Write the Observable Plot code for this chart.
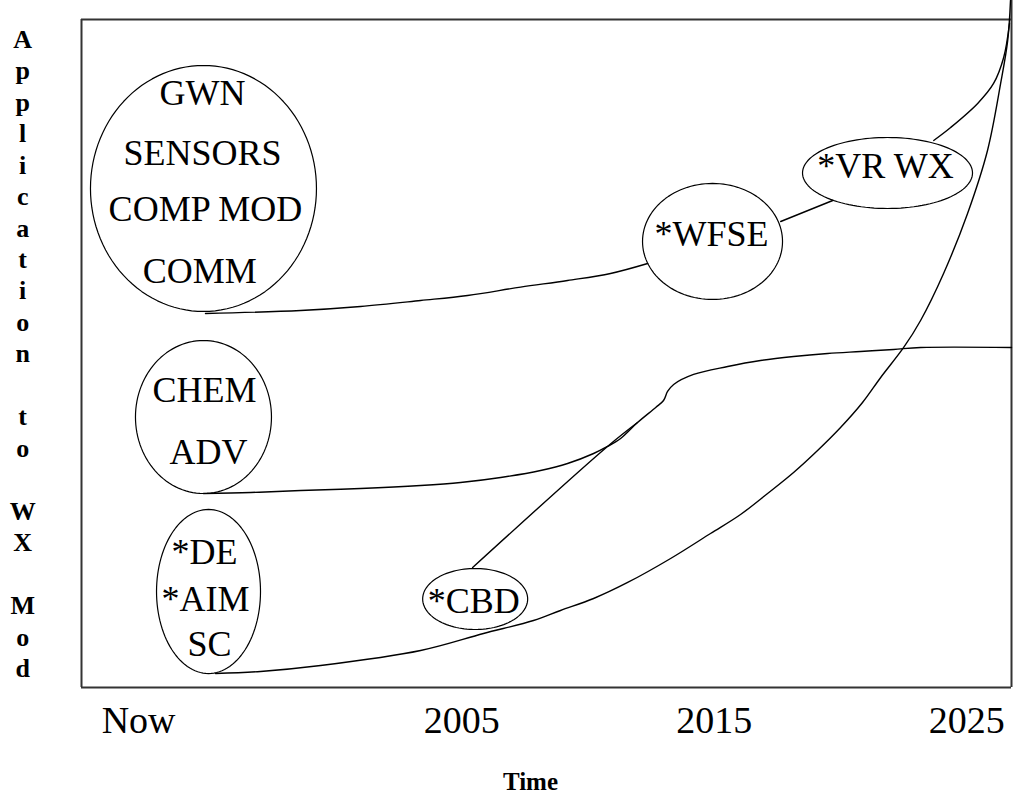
<!DOCTYPE html>
<html><head><meta charset="utf-8">
<script src="https://cdn.jsdelivr.net/npm/d3@7"></script>
<script src="https://cdn.jsdelivr.net/npm/@observablehq/plot@0.6"></script>
<style>
html,body{margin:0;padding:0;background:#fff;}
#chart svg{display:block}
#chart svg text{font-family:'Liberation Serif','Times New Roman',Times,serif;}
</style></head><body><div id="chart"></div>
<script>
// x axis: time (years), y axis: application to WX Mod (0..100 level)
const tickYears = [1992.2, 2005, 2015, 2025];
const tickLabels = ["Now", "2005", "2015", "2025"];
const yAxisTitle = "Application to WX Mod";
const xAxisTitle = "Time";

const frameYears = [1989.94, 2026.77];
const frameLevels = [0, 100];
const levelTop = 102.84;

// ellipses (center year, center level, radius in years, radius in level)
const ellipseNames = ["big", "chem", "de", "cbd", "wfse", "vrwx"];
const ellipseCx = [1994.77, 1994.77, 1994.97, 2005.53, 2014.93, 2021.86];
const ellipseCy = [74.70, 40.49, 14.37, 13.25, 66.77, 77.02];
const ellipseRx = [4.475, 2.693, 2.059, 2.079, 2.772, 3.366];
const ellipseRy = [18.41, 11.45, 12.28, 4.566, 8.683, 5.314];

// labels inside the ellipses
const labelText = ["GWN", "SENSORS", "COMP MOD", "COMM", "CHEM", "ADV", "*DE", "*AIM", "SC", "*CBD", "*WFSE", "*VR WX"];
const labelX = [1994.73, 1994.73, 1994.85, 1994.62, 1994.81, 1994.97, 1994.81, 1994.85, 1995.01, 2005.47, 2014.89, 2021.78];
const labelY = [88.85, 79.87, 71.63, 62.35, 44.39, 35.25, 20.28, 13.25, 6.51, 12.95, 67.89, 78.07];

// connecting curves [year, level]
const pathCommToWfse = [[1994.85,55.99],[1998.62,56.44],[2000.99,57.04],[2003.37,57.93],[2005.23,58.68],[2007.33,59.93],[2009.19,60.93],[2010.89,61.98],[2012.36,63.47]];
const pathWfseToVrwx = [[2017.63,69.76],[2019.69,72.90]];
const pathVrwxUp = [[2023.69,81.89],[2024.36,83.83],[2025.43,87.43],[2026.06,90.42],[2026.46,94.31],[2026.69,99.40]];
const pathScUp = [[1995.25,2.10],[1997.03,2.40],[1999.41,3.29],[2003.37,5.54],[2005.86,8.08],[2007.84,10.03],[2008.91,11.53],[2010.22,13.32],[2011.57,15.72],[2013.27,19.31],[2014.85,23.05],[2016.04,25.90],[2017.11,29.04],[2018.14,32.19],[2019.09,35.48],[2020.00,38.92],[2020.87,42.66],[2021.59,46.41],[2022.50,50.90],[2023.17,54.94],[2024.08,61.98],[2025.03,70.96],[2025.82,80.39],[2026.34,90.42],[2026.62,96.86],[2026.73,102.84]];
const pathChemUp = [[1994.77,29.04],[1996.64,29.19],[1998.62,29.49],[2000.99,29.79],[2003.37,30.24],[2004.95,30.69],[2006.54,31.44],[2008.12,32.49],[2009.19,33.53],[2010.22,35.03],[2010.77,36.08],[2011.29,37.28],[2011.96,39.67],[2012.68,41.92],[2012.99,42.96],[2013.15,44.31],[2013.39,45.36],[2014.18,46.86],[2015.53,48.05],[2016.83,48.95],[2018.14,49.55],[2019.49,50.00],[2020.79,50.30],[2022.10,50.60],[2023.17,50.90],[2026.77,50.90]];
const pathCbdUp = [[2005.43,17.96],[2010.77,36.08],[2011.96,39.67]];

const paths = [
  ["commWfse", pathCommToWfse], ["wfseVrwx", pathWfseToVrwx], ["vrwxUp", pathVrwxUp],
  ["scUp", pathScUp], ["chemUp", pathChemUp], ["cbdUp", pathCbdUp]
].flatMap(([id, pts]) => pts.map(([x, y]) => ({id, x, y})));

const ellipsePts = ellipseNames.flatMap((n, i) =>
  d3.range(0, 360, 3).map(a => ({
    n,
    x: ellipseCx[i] + ellipseRx[i] * Math.cos(a * Math.PI / 180),
    y: ellipseCy[i] + ellipseRy[i] * Math.sin(a * Math.PI / 180)
  })));

const labels = labelText.map((t, i) => ({t, x: labelX[i], y: labelY[i]}));
const stackedTitle = yAxisTitle.split(" ").map(w => w.split("").join("\n")).join("\n\n");

const serif = "'Liberation Serif', 'Times New Roman', Times, serif";

const chart = Plot.plot({
  width: 1013,
  height: 794,
  marginLeft: 81,
  marginRight: 2,
  marginTop: 0,
  marginBottom: 107,
  style: {fontFamily: serif, fontSize: "38px", color: "#000", background: "#fff"},
  x: {
    domain: frameYears,
    ticks: tickYears,
    tickFormat: d => tickLabels[tickYears.indexOf(d)],
    tickSize: 0,
    tickPadding: 19,
    label: null
  },
  y: {domain: [0, levelTop], axis: null},
  marks: [
    // frame
    Plot.ruleX([frameYears[0]], {y1: frameLevels[0], y2: frameLevels[1], stroke: "#333", strokeWidth: 2}),
    Plot.ruleX([frameYears[1]], {y1: 0, y2: levelTop, stroke: "#333", strokeWidth: 2}),
    Plot.ruleY([frameLevels[0]], {x1: frameYears[0], x2: frameYears[1], stroke: "#333", strokeWidth: 2}),
    Plot.ruleY([frameLevels[1]], {x1: frameYears[0], x2: frameYears[1], stroke: "#333", strokeWidth: 2}),
    // ellipses
    Plot.line(ellipsePts, {x: "x", y: "y", z: "n", curve: "linear-closed", stroke: "#000", strokeWidth: 1.2}),
    // curves
    Plot.line(paths, {x: "x", y: "y", z: "id", curve: "catmull-rom", stroke: "#000", strokeWidth: 1.4}),
    // labels
    Plot.text(labels, {x: "x", y: "y", text: "t", fontSize: 36, fontFamily: serif, fill: "#000"}),
    // y axis title (stacked letters)
    Plot.text([stackedTitle], {x: 1987.61, y: 99.1, text: d => d, fontSize: 26, fontFamily: serif, fontWeight: "bold", lineAnchor: "top", lineHeight: 1.21, fill: "#000"}),
    // x axis title
    Plot.text([xAxisTitle], {x: 2007.72, y: -14.22, text: d => d, fontSize: 25, fontFamily: serif, fontWeight: "bold", fill: "#000"})
  ]
});
document.getElementById("chart").appendChild(chart);
</script>
</body></html>
